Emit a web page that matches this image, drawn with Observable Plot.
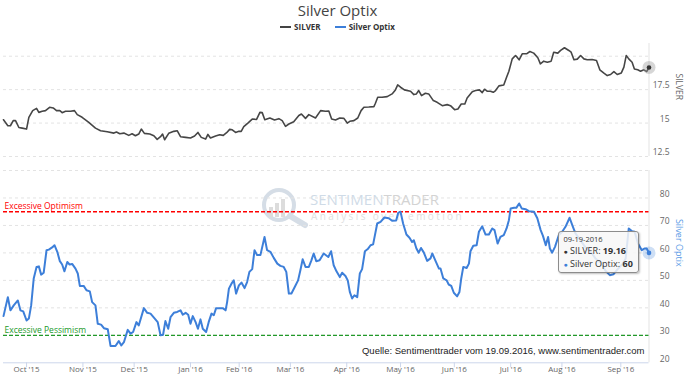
<!DOCTYPE html>
<html><head><meta charset="utf-8">
<script src="https://cdn.jsdelivr.net/npm/d3@7"></script>
<script src="https://cdn.jsdelivr.net/npm/@observablehq/plot@0.6"></script>
<style>
html,body{margin:0;padding:0;background:#fff;}
#wrap{position:relative;width:685px;height:378px;overflow:hidden;font-family:"Open Sans",sans-serif;}
#title{position:absolute;left:0;top:0px;width:675px;text-align:center;font-size:15px;color:#444;line-height:20px;}
#legend{position:absolute;left:0;top:21px;width:675px;display:flex;justify-content:center;gap:14px;font-size:8px;font-weight:bold;color:#333;line-height:12px;}
.item{display:flex;align-items:center;}
.sym{display:inline-block;width:11px;height:2px;margin-right:3px;}
#wm{position:absolute;left:255px;top:183px;width:240px;height:50px;}
#topPanel{position:absolute;left:0;top:36px;}
#botPanel{position:absolute;left:0;top:161px;}
#tip{position:absolute;background:rgba(247,247,247,0.85);border:1px solid #8c8c8c;border-radius:3px;box-shadow:1px 1px 2px rgba(0,0,0,0.25);padding:2px 5px 2px 5px;font-size:9px;line-height:11.5px;color:#333;white-space:nowrap;box-sizing:border-box;}
#tip .d{font-size:7.5px;}
#tip .b{font-size:7px;}
</style></head>
<body>
<div id="wrap">
  <div id="wm"><svg width="240" height="50">
    <circle cx="24" cy="22" r="15" fill="none" stroke="#d5dde6" stroke-width="4"/>
    <line x1="35" y1="33" x2="50" y2="42" stroke="#d5dde6" stroke-width="6" stroke-linecap="round"/>
    <rect x="14" y="24" width="4" height="10" fill="#dcdcdc"/>
    <rect x="20" y="20" width="4" height="14" fill="#dcdcdc"/>
    <rect x="26" y="16" width="4" height="18" fill="#dcdcdc"/>
    <text x="55" y="22" font-family="Open Sans" font-size="15" fill="#cfdbe7">SENTIMEN<tspan fill="#d3d3d3">TRADER</tspan></text>
    <text x="56" y="37" font-family="Open Sans" font-size="10" letter-spacing="2.4" fill="#e0e0e0">Analysis over emotion</text>
  </svg></div>
  <div id="title">Silver Optix</div>
  <div id="legend">
    <div class="item"><span class="sym" style="background:#444"></span>SILVER</div>
    <div class="item"><span class="sym" style="background:#3d7fd9"></span>Silver Optix</div>
  </div>
  <div id="topPanel"></div>
  <div id="botPanel"></div>
  <div id="tip"></div>
</div>
<script>
// ---- data (x = trading-day index from 18 Sep 2015, ordinal axis) ----
const silver = [[0,15.25],[1.7,14.8],[2.7,14.8],[3.8,15.18],[4.7,15.18],[6.0,14.67],[7.3,14.62],[9.0,14.55],[9.9,15.43],[11.4,15.93],[12.9,16.1],[13.8,15.8],[15.1,15.88],[16.4,15.93],[18.0,16.18],[19.4,16.13],[20.7,15.93],[22.0,15.93],[22.9,15.78],[24.2,15.88],[26.2,15.88],[27.7,15.93],[28.8,15.63],[30.7,15.43],[33.3,15.05],[35.9,14.62],[37.9,14.43],[40.5,14.35],[43.1,14.25],[44.1,14.33],[45.4,14.2],[47.0,14.25],[48.9,14.08],[50.2,14.2],[51.5,14.05],[52.8,14.18],[53.8,14.55],[55.0,14.23],[57.1,14.18],[58.7,14.05],[60.0,13.78],[61.3,13.98],[62.1,14.18],[62.9,13.75],[64.5,14.23],[66.5,14.38],[67.8,14.43],[69.1,13.98],[71.1,13.93],[73.0,13.88],[74.6,14.03],[75.9,14.3],[77.2,13.93],[78.9,13.8],[79.8,14.15],[80.8,13.88],[82.8,14.03],[84.4,14.13],[85.8,14.08],[87.1,14.28],[88.3,14.53],[89.3,14.5],[90.6,14.3],[91.9,14.38],[92.8,14.38],[93.8,14.73],[95.4,15.0],[97.1,15.3],[98.8,15.27],[100.1,15.8],[101.0,15.78],[102.0,15.25],[104.0,15.38],[105.8,15.23],[107.5,15.33],[108.8,15.18],[110.1,14.75],[111.4,14.93],[113.3,15.1],[115.3,15.57],[116.3,15.68],[117.9,15.35],[119.2,15.63],[121.8,15.38],[123.8,15.93],[125.7,15.88],[127.0,15.9],[128.1,15.3],[129.6,15.23],[131.3,15.38],[132.9,15.35],[134.2,15.0],[135.2,15.13],[136.8,15.18],[138.3,15.38],[139.6,15.93],[140.7,16.18],[142.6,16.2],[144.6,16.23],[145.2,16.48],[146.1,16.93],[147.8,16.93],[149.8,16.98],[151.7,17.18],[153.0,17.48],[153.9,17.85],[155.0,17.68],[156.5,17.48],[158.9,17.38],[160.2,17.13],[161.2,17.18],[162.1,17.43],[163.2,17.05],[164.7,17.23],[166.0,17.18],[167.8,16.68],[169.3,16.55],[171.3,16.3],[173.2,16.38],[174.5,16.3],[176.1,16.0],[177.4,16.05],[178.7,16.43],[180.1,16.43],[181.0,16.88],[183.0,17.35],[184.3,17.43],[185.8,17.48],[186.9,17.28],[187.8,17.53],[188.8,17.38],[190.1,17.38],[191.2,17.3],[192.1,17.43],[193.4,17.78],[195.3,17.85],[196.4,18.43],[197.3,18.88],[198.6,19.8],[199.9,20.05],[200.5,19.93],[201.3,19.73],[202.5,20.18],[204.2,20.18],[205.5,20.35],[207.0,20.23],[208.6,19.88],[209.6,19.43],[210.9,19.63],[212.3,19.55],[213.8,19.63],[214.8,20.3],[216.4,20.23],[217.5,20.43],[219.0,20.63],[220.7,20.43],[221.6,20.3],[222.7,19.73],[224.0,19.78],[225.3,20.05],[226.6,19.8],[227.9,19.73],[229.8,19.75],[231.5,19.68],[232.8,18.98],[234.4,18.73],[235.7,18.55],[237.0,18.63],[238.3,18.85],[239.6,18.63],[241.2,18.75],[242.2,19.18],[243.1,20.05],[244.1,19.8],[245.4,19.55],[246.3,19.05],[247.6,18.98],[248.7,18.88],[250.0,18.98],[251.1,18.85],[252,19.16]];

const optix = [[0,37.0],[1.7,43.9],[2.7,39.1],[4.0,40.9],[5.6,42.7],[6.6,39.1],[7.7,38.7],[9.0,35.4],[9.9,36.1],[10.8,40.9],[11.8,50.7],[12.9,54.9],[13.8,55.1],[14.7,52.1],[15.7,52.8],[16.8,61.0],[17.7,61.2],[19.0,62.0],[19.9,62.8],[21.0,60.4],[22.0,57.0],[22.9,55.8],[23.8,53.3],[24.9,56.7],[25.8,55.8],[26.8,56.0],[28.1,54.3],[29.0,52.5],[29.8,48.0],[31.3,48.0],[32.4,46.4],[33.7,46.0],[34.6,42.1],[35.9,40.9],[36.8,34.2],[38.1,33.9],[39.2,32.6],[40.7,32.2],[41.8,26.1],[43.7,26.1],[45.0,27.9],[46.0,26.3],[47.0,27.5],[48.5,32.0],[49.6,30.6],[50.6,31.2],[51.9,34.8],[52.8,33.6],[54.8,39.9],[56.1,38.2],[57.4,37.9],[59.3,35.8],[60.2,34.8],[61.3,30.0],[62.3,30.2],[63.2,35.2],[64.3,32.4],[65.2,36.6],[66.5,38.2],[67.8,38.5],[69.1,39.1],[70.0,37.5],[71.1,38.2],[72.1,37.5],[73.0,34.2],[73.9,37.0],[75.0,34.8],[75.9,32.4],[76.9,35.8],[77.8,32.4],[79.1,31.2],[80.1,34.8],[81.2,37.9],[82.1,37.3],[83.0,39.9],[84.3,39.9],[85.6,39.9],[86.7,39.1],[87.3,42.1],[88.0,47.0],[89.0,48.8],[89.9,50.0],[90.8,45.2],[91.9,48.2],[92.9,49.2],[94.1,47.2],[95.1,49.4],[96.0,53.1],[97.1,54.1],[98.0,61.0],[99.0,59.2],[100.3,59.2],[101.9,65.8],[102.9,61.0],[104.2,60.4],[105.5,58.2],[106.9,56.1],[108.1,55.3],[109.4,54.9],[110.4,53.1],[111.4,45.2],[112.4,45.2],[113.7,47.6],[115.0,50.0],[115.9,53.7],[116.8,57.7],[117.9,54.9],[119.2,54.9],[120.2,57.3],[121.1,59.8],[122.1,57.0],[123.4,57.3],[125.0,59.8],[126.8,58.5],[127.9,60.6],[128.9,55.5],[130.0,53.3],[131.3,51.2],[132.2,52.8],[133.5,51.6],[134.4,50.0],[135.2,45.8],[136.1,43.4],[137.0,44.6],[138.1,43.9],[139.1,52.5],[140.0,54.1],[141.1,60.6],[142.2,61.4],[143.3,62.8],[144.3,63.1],[145.9,70.7],[147.2,71.3],[148.7,72.9],[150.4,72.6],[151.7,71.7],[153.3,71.8],[154.1,74.6],[155.0,75.0],[156.0,70.7],[157.3,66.7],[158.5,65.5],[159.5,64.0],[160.2,64.6],[161.2,61.6],[162.1,60.1],[163.0,61.8],[164.1,60.1],[165.4,57.1],[166.7,58.0],[167.4,59.8],[168.7,57.0],[170.0,54.3],[170.6,54.3],[171.7,50.7],[173.0,50.0],[173.8,48.5],[174.8,48.0],[175.8,45.5],[177.1,44.2],[178.0,45.8],[178.7,50.7],[179.5,54.9],[180.8,54.5],[181.7,56.1],[182.3,60.6],[183.4,62.6],[184.7,62.8],[185.6,67.7],[186.9,69.7],[188.2,66.7],[189.5,66.7],[190.8,68.9],[191.7,68.3],[192.9,63.4],[194.0,65.8],[195.3,66.5],[196.4,68.9],[197.3,71.9],[198.0,76.2],[199.3,76.4],[200.2,76.4],[201.3,78.0],[202.3,76.2],[203.8,75.9],[205.1,75.2],[207.1,75.0],[208.4,72.6],[209.7,68.3],[210.6,66.2],[211.7,62.8],[212.6,65.8],[213.3,61.6],[214.2,60.1],[215.3,62.2],[216.8,66.5],[218.1,67.7],[219.4,69.5],[221.0,72.8],[222.3,69.5],[223.3,67.1],[225.3,64.5],[227.2,62.0],[229.2,60.5],[231.1,58.0],[233.1,56.5],[235.0,53.5],[236.7,51.9],[238.1,52.2],[239.7,54.0],[241.7,56.0],[242.9,58.0],[244.1,68.9],[245.4,67.9],[246.4,67.7],[247.7,63.4],[249.2,61.0],[250.2,61.6],[251.1,61.6],[252,60]];

const monthDay = [9, 31, 51, 73, 92, 112, 134, 155, 176, 198, 218, 241];
const monthLabel = ["Oct '15","Nov '15","Dec '15","Jan '16","Feb '16","Mar '16","Apr '16","May '16","Jun '16","Jul '16","Aug '16","Sep '16"];
const silverTicks = [12.5, 15, 17.5];
const silverGrid = [12.5, 15, 17.5, 20];
const optixTicks = [20, 30, 40, 50, 60, 70, 80];
const optixGrid = [30, 40, 50, 60, 70, 80, 90];
const optimismLevel = 75;
const pessimismLevel = 30;
const lastDate = "09-19-2016";
const caption = "Quelle: Sentimenttrader vom 19.09.2016, www.sentimentrader.com";

// ---- tables ----
const silverT = silver.map(([day, value]) => ({day, value}));
const optixT = optix.map(([day, value]) => ({day, value}));
const months = monthDay.map((day, i) => ({day, label: monthLabel[i]}));
const lastSilver = silverT[silverT.length - 1];
const lastOptix = optixT[optixT.length - 1];
const xDomain = [0, d3.max(optixT, d => d.day)];
const W = 685;
const BLUE = "#3d7fd9";
const FONT = "'Open Sans', sans-serif";

const topPlot = Plot.plot({
  width: W, height: 125, marginTop: 7, marginBottom: 5, marginLeft: 3, marginRight: 36.5,
  style: {background: "transparent", overflow: "visible", fontFamily: FONT},
  x: {domain: xDomain, axis: null},
  y: {domain: [12.5, 20.95], axis: null},
  marks: [
    Plot.ruleY(silverGrid, {y: d => d, stroke: "#e3e3e3", strokeDasharray: "3,3"}),
    Plot.ruleX([xDomain[1]], {x: d => d, stroke: "#e3e3e3"}),
    Plot.text(silverTicks, {y: d => d, text: d => String(d), frameAnchor: "right", dx: 20.5, dy: -4, textAnchor: "end", fill: "#666", fontSize: 8.5}),
    Plot.text(["SILVER"], {text: d => d, frameAnchor: "right", dx: 29.5, rotate: 90, fill: "#666", fontSize: 8.5}),
    Plot.line(silverT, {x: "day", y: "value", stroke: "#464646", strokeWidth: 1.6}),
    Plot.dot([lastSilver], {x: "day", y: "value", r: 6.5, fill: "#999", fillOpacity: 0.4}),
    Plot.dot([lastSilver], {x: "day", y: "value", r: 2.3, fill: "#333"})
  ]
});
document.getElementById("topPanel").appendChild(topPlot);

const botPlot = Plot.plot({
  width: W, height: 217, marginTop: 9, marginBottom: 15.7, marginLeft: 3, marginRight: 36.5,
  style: {background: "transparent", overflow: "visible", fontFamily: FONT},
  x: {domain: xDomain, axis: null},
  y: {domain: [20, 90], axis: null},
  marks: [
    Plot.ruleY(optixGrid, {y: d => d, stroke: "#e3e3e3", strokeDasharray: "3,3"}),
    Plot.ruleX([xDomain[1]], {x: d => d, stroke: "#e3e3e3"}),
    Plot.ruleY([optixTicks[0]], {y: d => d, stroke: "#ccd6eb"}),
    Plot.ruleX(months, {x: "day", y1: () => optixTicks[0], y2: () => optixTicks[0], insetBottom: -5, stroke: "#ccd6eb"}),
    Plot.text(months, {x: "day", text: "label", frameAnchor: "bottom", dy: 9.5, fill: "#666", fontSize: 8}),
    Plot.text(optixTicks, {y: d => d, text: d => String(d), frameAnchor: "right", dx: 20.5, dy: -4, textAnchor: "end", fill: "#666", fontSize: 8.5}),
    Plot.text(["Silver Optix"], {text: d => d, frameAnchor: "right", dx: 29.5, rotate: 90, fill: "#5b9be6", fontSize: 9}),
    Plot.ruleY([optimismLevel], {y: d => d, stroke: "#ff0000", strokeDasharray: "4,2", strokeWidth: 1.4}),
    Plot.ruleY([pessimismLevel], {y: d => d, stroke: "#22992a", strokeDasharray: "4,2", strokeWidth: 1.4}),
    Plot.text([{level: optimismLevel, label: "Excessive Optimism"}], {y: "level", text: "label", frameAnchor: "left", dx: 1, dy: -5, textAnchor: "start", fill: "#ff0000", fontSize: 8.5}),
    Plot.text([{level: pessimismLevel, label: "Excessive Pessimism"}], {y: "level", text: "label", frameAnchor: "left", dx: 1, dy: -5, textAnchor: "start", fill: "#22992a", fontSize: 8.5}),
    Plot.text([caption], {text: d => d, frameAnchor: "bottom-right", dx: -4.5, dy: -9, textAnchor: "end", fill: "#222", fontSize: 9.5, fontFamily: "'Liberation Sans', Arial, sans-serif"}),
    Plot.line(optixT, {x: "day", y: "value", stroke: BLUE, strokeWidth: 2}),
    Plot.dot([lastOptix], {x: "day", y: "value", r: 6.5, fill: BLUE, fillOpacity: 0.25}),
    Plot.dot([lastOptix], {x: "day", y: "value", r: 2.3, fill: BLUE})
  ]
});
document.getElementById("botPanel").appendChild(botPlot);

// tooltip anchored at the last point
const tip = document.getElementById("tip");
tip.innerHTML = `<div class="d">${lastDate}</div>` +
  `<div><span class="b" style="color:#333">\u25CF</span> SILVER: <b>${lastSilver.value.toFixed(2)}</b></div>` +
  `<div><span class="b" style="color:${BLUE}">\u25CF</span> Silver Optix: <b>${lastOptix.value}</b></div>`;
const px = botPlot.scale("x").apply(lastOptix.day);
const py = botPlot.scale("y").apply(lastOptix.value) + 161;
const tw = tip.offsetWidth, th = tip.offsetHeight;
tip.style.left = (px - 10 - tw) + "px";
tip.style.top = (py - th / 2) + "px";
</script>
</body></html>
